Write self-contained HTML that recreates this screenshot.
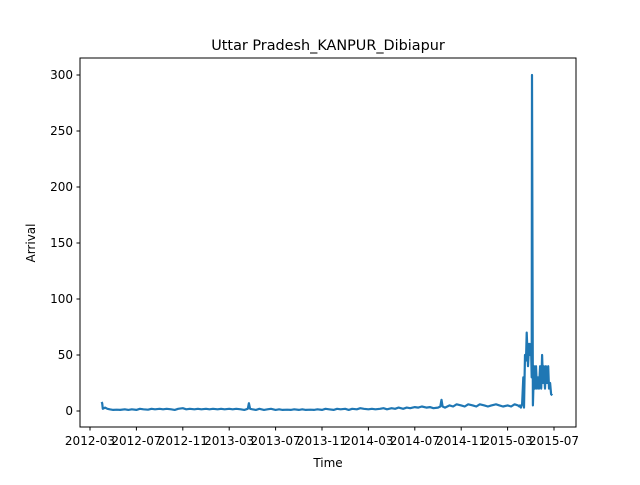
<!DOCTYPE html>
<html><head><meta charset="utf-8"><style>
body{margin:0;background:#fff;font-family:"Liberation Sans","DejaVu Sans",sans-serif}
svg text{font-family:"DejaVu Sans","Liberation Sans",sans-serif;font-size:12px;fill:#000}
</style></head><body>
<svg id="c" width="640" height="480"></svg>
<script>
// months since 2012-01 (fractional)
const months=[3.0,3.05,3.1,3.3,3.5,3.7,4.0,4.3,4.6,5.0,5.3,5.6,6.0,6.3,6.6,7.0,7.3,7.6,8.0,8.3,8.6,9.0,9.3,9.6,10.0,10.3,10.6,11.0,11.3,11.6,12.0,12.3,12.6,13.0,13.3,13.6,14.0,14.3,14.6,15.0,15.3,15.6,15.7,15.8,16.0,16.3,16.6,17.0,17.3,17.6,18.0,18.3,18.6,19.0,19.3,19.6,20.0,20.3,20.6,21.0,21.3,21.6,22.0,22.3,22.6,23.0,23.3,23.6,24.0,24.3,24.6,25.0,25.3,25.6,26.0,26.3,26.6,27.0,27.3,27.6,28.0,28.3,28.6,29.0,29.3,29.6,30.0,30.3,30.6,31.0,31.3,31.6,32.0,32.2,32.3,32.4,32.6,33.0,33.3,33.6,34.0,34.3,34.6,35.0,35.3,35.6,36.0,36.3,36.6,37.0,37.3,37.6,38.0,38.3,38.6,38.9,39.0,39.07,39.15,39.25,39.35,39.41,39.5,39.59,39.65,39.76,39.85,39.95,40.02,40.08,40.1,40.18,40.28,40.36,40.45,40.53,40.62,40.71,40.8,40.9,40.97,41.05,41.12,41.22,41.3,41.4,41.5,41.57,41.66,41.75,41.85,41.91];
const values=[8,7,2,3,2,1.5,1,1.2,1,1.5,1,1.5,1,2,1.5,1.2,2,1.5,2,1.5,2,1.5,1,2,2.5,1.5,2,1.5,2,1.5,2,1.5,2,1.5,2,1.5,2,1.5,2,1.5,1,2,7,2,1.5,1,2,1,1.5,2,1,1.5,1,1.2,1,1.5,1,1.5,1,1.2,1,1.5,1,2,1.5,1,2,1.5,2,1,2,1.5,2.5,2,1.5,2,1.5,2,2.5,1.5,2.5,2,3,2,3,2.5,3.5,3,4,3,3.5,2.5,3,4,10,4,3,5,4,6,5,4,6,5,4,6,5,4,5,6,5,4,5,4,6,5,4,5,3,6,30,3,50,45,70,40,60,50,60,30,300,5,40,20,40,20,30,20,40,20,50,25,40,20,40,25,40,20,25,15,14];
const yTicks=[0,50,100,150,200,250,300];
const xTickLabels=["2012-03","2012-07","2012-11","2013-03","2013-07","2013-11","2014-03","2014-07","2014-11","2015-03","2015-07"];
const xTickMonths=[2,6,10,14,18,22,26,30,34,38,42];
const svg=document.getElementById('c');const NS='http://www.w3.org/2000/svg';
const L=80,R=576,T=58,B=427;
const xs=m=>90+(m-2)*11.6;
const ys=v=>411-v*1.12;
function mk(t,a,p){const e=document.createElementNS(NS,t);for(const k in a)e.setAttribute(k,a[k]);(p||svg).appendChild(e);return e;}
let d='';months.forEach((m,i)=>{d+=(i?'L':'M')+xs(m).toFixed(1)+','+ys(values[i]).toFixed(1);});
const line=mk('path',{d:d,fill:'none',stroke:'#1f77b4','stroke-width':2.2,'stroke-linejoin':'round'});


const fr=mk('rect',{x:L,y:T,width:R-L,height:B-T,fill:'none',stroke:'#000','stroke-width':1});


yTicks.forEach(v=>{const y=ys(v);mk('line',{x1:L-3.5,x2:L,y1:y,y2:y,stroke:'#000'});
const t=mk('text',{x:L-7,y:y+4,'text-anchor':'end'});t.textContent=v;

});
xTickMonths.forEach((m,i)=>{const x=xs(m);mk('line',{x1:x,x2:x,y1:B,y2:B+3.5,stroke:'#000'});
const t=mk('text',{x:x,y:B+18,'text-anchor':'middle'});t.textContent=xTickLabels[i];

});
const ti=mk('text',{x:328,y:50,'text-anchor':'middle',style:'font-size:14.4px'});ti.textContent='Uttar Pradesh_KANPUR_Dibiapur';


const xt=mk('text',{x:328,y:467,'text-anchor':'middle'});xt.textContent='Time';


const yt=mk('text',{x:35,y:243,'text-anchor':'middle',transform:'rotate(-90 35 243)'});yt.textContent='Arrival';


</script></body></html>
